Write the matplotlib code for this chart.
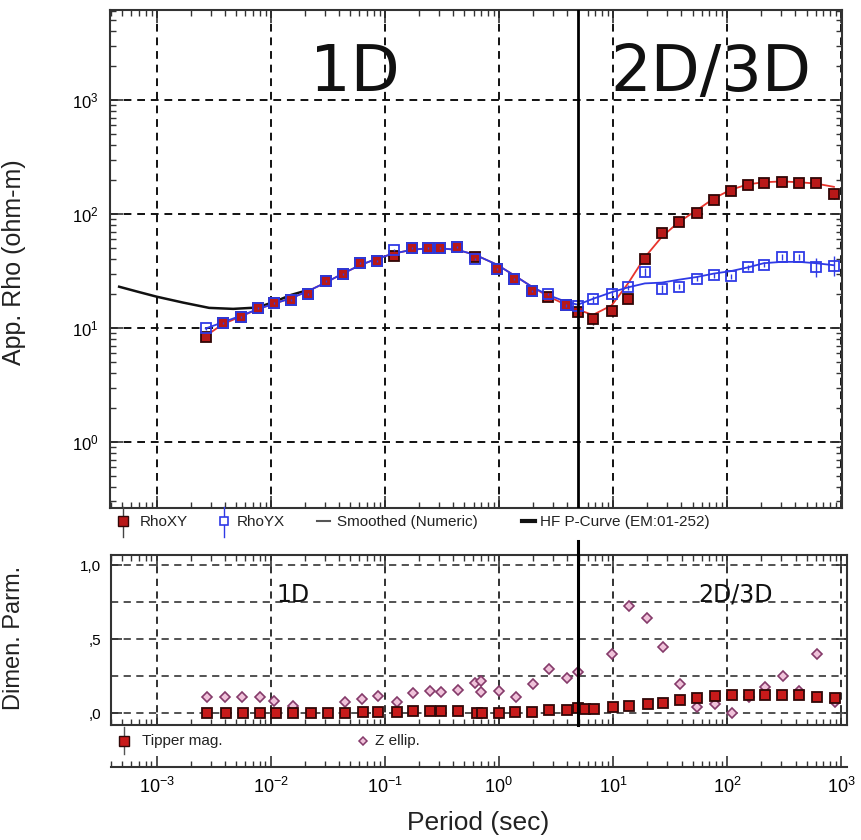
import numpy as np
import matplotlib
matplotlib.use("Agg")
import matplotlib.pyplot as plt
from matplotlib.lines import Line2D
from matplotlib.ticker import FixedLocator, LogLocator

plt.rcParams['font.family'] = ['Liberation Sans', 'DejaVu Sans']
plt.rcParams['mathtext.fontset'] = 'custom'
plt.rcParams['mathtext.rm'] = 'Liberation Sans'
plt.rcParams['mathtext.it'] = 'Liberation Sans:italic'
plt.rcParams['mathtext.bf'] = 'Liberation Sans:bold'

# ---------------- data (top panel) ----------------
period = [0.00269, 0.00379, 0.00546, 0.00769, 0.0106, 0.0150, 0.0211, 0.0303,
          0.0429, 0.0604, 0.0851, 0.120, 0.173, 0.238, 0.303, 0.429, 0.615,
          0.959, 1.36, 1.95, 2.69, 3.87, 4.93, 6.68, 9.79, 13.6, 19.1, 26.9,
          37.9, 54.6, 76.9, 108, 153, 211, 303, 429, 604, 869]
rho_xy = [8.3, 11, 12.4, 14.9, 16.4, 17.5, 20, 26, 30, 37, 39, 43, 50, 50, 50,
          51, 42, 33, 27, 21, 18.6, 15.8, 13.7, 11.9, 14, 17.8, 40, 68, 85, 103,
          132, 159, 181, 188, 190, 186, 188, 151]
rho_yx = [9.9, 11, 12.4, 14.9, 16.4, 17.5, 20, 26, 30, 37, 39, 48, 50, 50, 50,
          51, 40, 33, 27, 21, 20, 15.8, 15.5, 17.8, 20, 22.7, 31, 22, 23, 27,
          29, 28.5, 34, 36, 42, 42, 34, 35]
err_xy = [0.03, 0.02, 0.02, 0.02, 0.02, 0.02, 0.02, 0.02, 0.02, 0.02, 0.02,
          0.02, 0.02, 0.02, 0.02, 0.02, 0.02, 0.02, 0.02, 0.02, 0.02, 0.03,
          0.04, 0.12, 0.05, 0.04, 0.04, 0.04, 0.04, 0.04, 0.04, 0.04, 0.04,
          0.04, 0.05, 0.05, 0.08, 0.12]
err_yx = [0.03, 0.02, 0.02, 0.02, 0.02, 0.02, 0.02, 0.02, 0.02, 0.02, 0.02,
          0.02, 0.02, 0.02, 0.02, 0.02, 0.02, 0.02, 0.02, 0.02, 0.02, 0.03,
          0.04, 0.08, 0.05, 0.05, 0.08, 0.08, 0.05, 0.05, 0.05, 0.05, 0.05,
          0.05, 0.06, 0.06, 0.22, 0.22]
smooth_xy = [8.5, 10.8, 12.6, 14.6, 16.3, 18.2, 21, 25, 30, 35.5, 40.5, 45,
             48.5, 50, 50, 48.5, 44, 36, 29, 23, 19, 16, 14.5, 13, 15.8, 24.6,
             41.7, 63, 85, 108, 137, 163, 182, 190, 193, 190, 185, 173]
smooth_yx = [9.9, 11.2, 12.8, 14.6, 16.3, 18.2, 21, 25, 30, 35.5, 40.5, 45,
             48.5, 50, 50, 48.5, 44, 36, 29, 23, 19.5, 17, 16, 18, 20.6, 22.7,
             24.6, 25, 26.5, 28, 30, 31.5, 34, 37, 38, 38, 37, 35.5]
pcurve_period = [0.000468, 0.00068, 0.001, 0.0017, 0.00288, 0.00468, 0.00759,
                 0.0105, 0.0151, 0.0209]
pcurve_rho = [23.0, 20.8, 18.8, 16.7, 15.0, 14.7, 15.1, 16.8, 19.5, 21.4]
boundary_period = 4.95
period_ticks = [1e-3, 1e-2, 1e-1, 1e0, 1e1, 1e2, 1e3]
period_ticklabels = ['$10^{-3}$', '$10^{-2}$', '$10^{-1}$', '$10^{0}$',
                     '$10^{1}$', '$10^{2}$', '$10^{3}$']

# ---------------- data (bottom panel) ----------------
tip_period = [0.00275, 0.00403, 0.00568, 0.00801, 0.0111, 0.0156, 0.0224,
              0.0316, 0.0446, 0.0641, 0.0869, 0.127, 0.176, 0.248, 0.310,
              0.437, 0.641, 0.710, 1.0, 1.38, 1.95, 2.75, 3.95, 4.93, 5.68,
              6.81, 10.0, 13.8, 20.3, 27.5, 38.7, 54.6, 78.5, 111, 156, 215,
              303, 428, 615, 885]
tipper = [0, 0, 0, 0, 0, 0, 0, 0, 0, 0.005, 0.005, 0.01, 0.015, 0.015, 0.015,
          0.015, 0.0, 0.0, 0.0, 0.01, 0.01, 0.02, 0.02, 0.035, 0.03, 0.03,
          0.04, 0.05, 0.06, 0.07, 0.09, 0.10, 0.115, 0.12, 0.125, 0.125, 0.12,
          0.12, 0.11, 0.10]
zel_period = [0.00275, 0.00395, 0.00557, 0.00801, 0.0108, 0.0156, 0.0446,
              0.0629, 0.0869, 0.127, 0.176, 0.248, 0.310, 0.437, 0.616, 0.695,
              0.695, 1.0, 1.41, 1.99, 2.75, 3.95, 4.93, 9.80, 13.8, 19.9, 27.5,
              38.7, 54.6, 78.5, 111, 156, 215, 310, 428, 615, 885]
zellip = [0.11, 0.11, 0.11, 0.11, 0.08, 0.05, 0.075, 0.095, 0.115, 0.075,
          0.135, 0.15, 0.14, 0.155, 0.20, 0.215, 0.14, 0.15, 0.11, 0.195, 0.30,
          0.24, 0.275, 0.40, 0.72, 0.64, 0.445, 0.195, 0.04, 0.06, 0.0, 0.11,
          0.175, 0.25, 0.15, 0.40, 0.075]

# ---------------- figure ----------------
W, H = 862, 840
fig = plt.figure(figsize=(W / 100, H / 100), dpi=100)


def fx(px):
    return px / W


def fy(py):
    return 1 - py / H


RED_FACE = '#b81818'
RED_EDGE = '#300606'
BLUE = '#2f3ae6'
SPINE = '#333333'
DASH = (0, (4, 3))

# top panel
ax1 = fig.add_axes([fx(110), fy(508), (842 - 110) / W, (508 - 10) / H])
ax1.set_xscale('log')
ax1.set_yscale('log')
ax1.set_xlim(10 ** -3.41, 10 ** 3.01)
ax1.set_ylim(10 ** -0.58, 10 ** 3.79)
ax1.xaxis.set_major_locator(FixedLocator(period_ticks))
ax1.grid(which='major', color='#111111', linestyle=DASH, linewidth=1.4)
ax1.tick_params(which='both', direction='in', top=True, right=True,
                labelbottom=False, color=SPINE)
ax1.tick_params(which='major', length=9, width=1.2, labelsize=12, pad=8)
ax1.tick_params(which='minor', length=4.5, width=1.0)
for s in ax1.spines.values():
    s.set_color(SPINE)
    s.set_linewidth(1.5)

ax1.plot(pcurve_period, pcurve_rho, color='#111111', lw=1.8, zorder=3)
ax1.plot(period, smooth_xy, color='#e8342c', lw=1.3, zorder=4)
ax1.plot(period, smooth_yx, color=BLUE, lw=1.3, zorder=4)

p = np.array(period)
rxy = np.array(rho_xy)
ryx = np.array(rho_yx)
exy = np.array(err_xy)
eyx = np.array(err_yx)
ax1.errorbar(p, rxy, yerr=[rxy - rxy / (1 + exy), rxy * exy], fmt='s',
             ms=7, mfc=RED_FACE, mec=RED_EDGE, mew=1.3, ecolor='#333333',
             elinewidth=1.0, capsize=0, zorder=5)
ax1.errorbar(p, ryx, yerr=[ryx - ryx / (1 + eyx), ryx * eyx], fmt='s',
             ms=6.5, mfc='none', mec=BLUE, mew=1.3, ecolor=BLUE,
             elinewidth=1.0, capsize=0, zorder=6)
ax1.axvline(boundary_period, color='k', lw=2.0, zorder=7)

ax1.text(0.335, 0.873, '1D', transform=ax1.transAxes, ha='center',
         va='center', fontsize=46, family='DejaVu Sans', color='#111111')
ax1.text(0.821, 0.873, '2D/3D', transform=ax1.transAxes, ha='center',
         va='center', fontsize=46, family='DejaVu Sans', color='#111111')
ax1.set_ylabel('App. Rho (ohm-m)', fontsize=18, color='#222222')
ax1.yaxis.set_label_coords((26 - 110) / 732, (508 - 262) / 498)

# top legend (figure level)
TXT = '#222222'
fig.add_artist(Line2D([fx(123)] * 2, [fy(507), fy(537)], color='#444444', lw=1.0))
fig.add_artist(Line2D([fx(123)], [fy(521)], marker='s', ms=7, mfc=RED_FACE,
                      mec=RED_EDGE, mew=1.0, ls='none'))
fig.text(fx(140), fy(522), 'RhoXY', fontsize=11, va='center', color=TXT)
fig.add_artist(Line2D([fx(224)] * 2, [fy(507), fy(537)], color=BLUE, lw=1.0))
fig.add_artist(Line2D([fx(224)], [fy(521)], marker='s', ms=5.5, mfc='white',
                      mec=BLUE, mew=1.2, ls='none'))
fig.text(fx(237), fy(522), 'RhoYX', fontsize=11, va='center', color=TXT)
fig.add_artist(Line2D([fx(317), fx(330)], [fy(521)] * 2, color='#555555', lw=1.5))
fig.text(fx(337), fy(522), 'Smoothed (Numeric)', fontsize=11, va='center', color=TXT)
fig.add_artist(Line2D([fx(522), fx(535)], [fy(521)] * 2, color='#111111', lw=3))
fig.text(fx(540), fy(522), 'HF P-Curve (EM:01-252)', fontsize=11, va='center', color=TXT)

# bottom panel
ax2 = fig.add_axes([fx(111), fy(725), (847 - 111) / W, (725 - 555) / H])
ax2.set_xscale('log')
ax2.set_xlim(10 ** -3.40, 10 ** 3.053)
ax2.xaxis.set_major_locator(FixedLocator(period_ticks))
ax2.set_ylim(-0.081, 1.068)
ax2.set_yticks([0, 0.5, 1.0])
ax2.set_yticklabels([',0', ',5', '1,0'])
ax2.set_yticks([0.25, 0.75], minor=True)
ax2.grid(which='major', axis='x', color='#222222', linestyle=DASH, linewidth=1.3)
ax2.grid(which='both', axis='y', color='#444444', linestyle=DASH, linewidth=1.3)
ax2.tick_params(which='both', direction='in', top=True, right=True,
                labelbottom=False, color=SPINE)
ax2.tick_params(which='major', length=8, width=1.2, labelsize=11, pad=7)
ax2.tick_params(which='minor', length=4, width=1.0)
ax2.tick_params(axis='y', which='minor', length=0)
for s in ax2.spines.values():
    s.set_color(SPINE)
    s.set_linewidth(1.5)

ax2.plot(zel_period, zellip, ls='none', marker='D', ms=5, mfc='#f0c2da',
         mec='#853a6a', mew=1.2, zorder=4)
ax2.plot(tip_period, tipper, ls='none', marker='s', ms=7.5, mfc='#c81a1a',
         mec='#300808', mew=1.3, zorder=5)
ax2.axvline(boundary_period, ymin=0, ymax=(725 - 541) / 170, color='k',
            lw=2.2, clip_on=False, zorder=7)
ax2.text(0.247, 0.765, '1D', transform=ax2.transAxes, ha='center',
         va='center', fontsize=17, family='DejaVu Sans', color='#111111')
ax2.text(0.849, 0.765, '2D/3D', transform=ax2.transAxes, ha='center',
         va='center', fontsize=17, family='DejaVu Sans', color='#111111')
ax2.set_ylabel('Dimen. Parm.', fontsize=17, color='#222222')
ax2.yaxis.set_label_coords((25 - 111) / 736, (725 - 638) / 170)

# bottom legend
fig.add_artist(Line2D([fx(124)] * 2, [fy(727), fy(754)], color='#555555', lw=1.0))
fig.add_artist(Line2D([fx(124)], [fy(741)], marker='s', ms=7.5, mfc='#c81a1a',
                      mec='#300808', mew=1.0, ls='none'))
fig.text(fx(142), fy(741), 'Tipper mag.', fontsize=11, va='center', color=TXT)
fig.add_artist(Line2D([fx(363)], [fy(741)], marker='D', ms=4.5, mfc='#f0c2da',
                      mec='#853a6a', mew=1.1, ls='none'))
fig.text(fx(375), fy(741), 'Z ellip.', fontsize=11, va='center', color=TXT)

# separate period axis
ax3 = fig.add_axes([fx(111), fy(767), (847 - 111) / W, 0.0001])
ax3.set_xscale('log')
ax3.set_xlim(10 ** -3.40, 10 ** 3.053)
ax3.xaxis.set_major_locator(FixedLocator(period_ticks))
ax3.set_xticklabels(period_ticklabels)
ax3.xaxis.set_minor_locator(LogLocator(base=10, subs=np.arange(2, 10)))
ax3.yaxis.set_visible(False)
for k in ['left', 'right', 'top']:
    ax3.spines[k].set_visible(False)
ax3.spines['bottom'].set_color(SPINE)
ax3.spines['bottom'].set_linewidth(1.5)
ax3.patch.set_visible(False)
ax3.tick_params(which='both', direction='in', color=SPINE)
ax3.tick_params(which='major', length=8, width=1.2, labelsize=13, pad=7)
ax3.tick_params(which='minor', length=4, width=1.0, labelbottom=False)
fig.text(fx(478), fy(823), 'Period (sec)', fontsize=19, ha='center',
         va='center', color='#222222')

fig.savefig('out.png', dpi=100)
